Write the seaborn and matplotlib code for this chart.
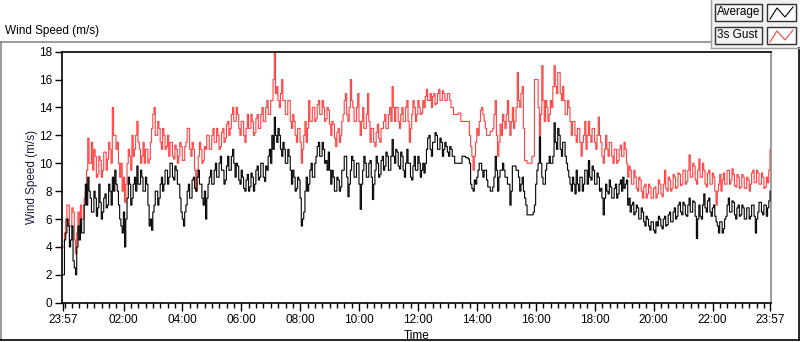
import numpy as np
import pandas as pd
import matplotlib
matplotlib.use('Agg')
import matplotlib.pyplot as plt
import seaborn as sns
from matplotlib.patches import Rectangle
from matplotlib.lines import Line2D
from matplotlib.ticker import FixedLocator

# データ: 23:57 からの経過分 (2.5分刻み, 1行 = 1時間)
step_min = 2.5

avg_speed = [
    2.0, 4.5, 5.0, 6.0, 5.5, 4.0, 4.5, 5.5, 3.0, 2.5, 2.0, 4.0, 5.5, 4.5, 6.0, 5.0, 5.0, 7.0, 8.5, 7.0, 9.0, 8.0, 7.5, 6.5,
    6.5, 8.0, 7.5, 6.2, 6.8, 8.5, 7.2, 6.0, 6.5, 7.5, 7.8, 6.8, 7.0, 8.5, 8.0, 7.0, 9.0, 8.0, 9.5, 8.5, 8.0, 7.0, 6.0, 5.5,
    5.0, 6.5, 4.0, 6.0, 7.5, 9.0, 8.5, 7.0, 7.5, 8.5, 9.0, 8.0, 9.8, 8.5, 8.5, 9.5, 9.0, 8.0, 8.0, 9.0, 8.5, 7.0, 5.5, 6.0,
    5.2, 6.5, 7.0, 8.0, 8.0, 7.0, 7.5, 8.5, 9.0, 8.0, 8.5, 9.5, 9.5, 8.5, 9.0, 10.0, 10.0, 9.0, 8.8, 9.8, 9.5, 8.5, 8.5, 7.5,
    6.5, 6.0, 5.5, 6.5, 7.0, 8.0, 8.5, 7.5, 7.5, 8.8, 9.0, 8.2, 8.0, 9.0, 9.5, 8.5, 8.5, 7.5, 7.0, 8.0, 6.0, 7.5, 8.5, 9.0,
    9.5, 8.5, 8.5, 9.5, 10.0, 9.0, 9.0, 10.0, 10.5, 9.5, 9.5, 8.5, 8.8, 9.8, 10.5, 9.5, 9.5, 10.5, 11.0, 10.0, 9.0, 10.0, 9.8, 8.8,
    8.5, 9.5, 9.0, 8.2, 8.0, 8.8, 9.2, 8.0, 8.3, 9.3, 9.0, 8.0, 8.5, 9.5, 9.8, 8.8, 9.0, 10.0, 10.0, 9.0, 8.7, 9.8, 9.5, 10.5,
    11.0, 10.0, 12.0, 11.0, 13.3, 12.0, 11.5, 12.5, 12.0, 11.0, 10.5, 11.5, 11.0, 10.0, 10.0, 11.0, 10.5, 9.5, 8.5, 9.5, 9.0, 8.0, 8.2, 9.0,
    8.8, 7.5, 5.5, 6.0, 6.5, 8.0, 9.0, 8.0, 8.5, 9.5, 10.0, 9.0, 9.0, 10.0, 10.5, 11.2, 11.5, 10.5, 10.5, 11.5, 11.0, 10.0, 10.2, 9.5,
    10.8, 9.5, 8.5, 9.5, 9.0, 8.0, 8.0, 9.0, 8.8, 8.0, 8.3, 9.5, 9.5, 10.5, 10.5, 9.0, 7.6, 8.5, 9.5, 10.5, 10.2, 9.0, 9.0, 10.0,
    10.0, 8.5, 6.7, 8.5, 9.5, 10.5, 10.0, 9.0, 9.0, 10.0, 10.2, 9.0, 7.4, 8.5, 9.5, 10.5, 10.0, 9.0, 9.2, 10.2, 10.5, 9.5, 9.8, 10.8,
    10.5, 9.5, 9.5, 10.5, 11.7, 10.5, 10.0, 11.0, 10.8, 9.8, 9.6, 10.8, 10.5, 9.5, 9.0, 10.0, 11.0, 10.0, 10.0, 9.0, 8.8, 9.8, 10.5, 9.5,
    9.5, 10.5, 10.0, 9.0, 9.5, 10.0, 9.3, 10.0, 11.0, 11.8, 12.0, 11.0, 10.5, 11.5, 11.5, 12.2, 12.0, 11.0, 11.0, 11.8, 11.5, 10.5, 11.0, 11.5,
    11.2, 10.8, 10.5, 11.2, 11.0, 10.5, 10.5, 10.0, 10.0, 10.0, 10.0, 10.0, 10.0, 10.5, 10.5, 10.5, 10.4, 10.4, 10.3, 10.0, 8.5, 8.2, 8.0, 8.8,
    8.5, 9.0, 9.5, 10.0, 10.0, 9.5, 9.0, 9.5, 9.5, 8.8, 8.3, 8.3, 8.0, 8.0, 8.3, 9.0, 10.5, 9.5, 8.0, 9.0, 9.5, 9.5, 10.0, 9.5,
    9.0, 9.0, 8.5, 8.5, 7.0, 8.0, 9.8, 9.8, 9.8, 9.5, 9.5, 9.0, 8.0, 8.5, 9.0, 8.0, 7.5, 7.0, 6.3, 6.3, 6.3, 6.3, 6.3, 6.5,
    7.0, 8.5, 9.5, 10.0, 11.9, 10.0, 9.0, 8.5, 8.5, 9.5, 10.0, 10.0, 10.5, 10.0, 10.0, 10.5, 12.9, 11.5, 11.0, 12.5, 12.0, 11.0, 10.5, 11.5,
    11.5, 10.5, 10.0, 9.5, 9.0, 8.5, 8.0, 9.0, 8.5, 7.8, 9.5, 8.5, 8.0, 9.0, 9.0, 8.0, 8.5, 9.5, 9.5, 8.5, 10.2, 9.0, 8.8, 9.8,
    9.5, 8.5, 8.5, 9.3, 9.0, 8.0, 8.2, 7.5, 6.3, 7.5, 8.5, 8.0, 7.8, 8.8, 8.3, 7.5, 7.5, 8.2, 8.5, 7.5, 7.8, 8.5, 8.8, 8.0,
    9.0, 8.2, 8.5, 8.8, 7.0, 7.5, 6.5, 7.0, 7.2, 6.3, 6.5, 7.0, 6.8, 6.0, 6.0, 6.8, 6.5, 5.8, 5.5, 6.2, 6.0, 5.5, 5.2, 5.8,
    5.8, 5.2, 5.0, 5.8, 5.5, 6.2, 6.0, 5.5, 5.3, 6.0, 6.2, 5.5, 5.6, 6.3, 6.5, 5.8, 5.8, 6.5, 6.8, 6.0, 6.2, 7.0, 7.2, 6.5,
    6.3, 7.2, 7.0, 6.3, 6.2, 7.0, 7.5, 6.5, 6.5, 7.3, 7.2, 6.2, 4.6, 6.0, 7.0, 6.2, 6.0, 7.0, 7.8, 6.8, 6.5, 7.3, 7.5, 6.5,
    6.2, 6.8, 7.0, 6.2, 5.8, 5.5, 5.0, 5.8, 5.8, 5.0, 5.3, 6.0, 6.2, 7.0, 7.5, 6.5, 6.5, 7.3, 7.2, 6.3, 6.0, 6.8, 7.0, 6.2,
    6.3, 7.0, 6.8, 6.0, 6.0, 6.8, 6.8, 6.0, 6.2, 7.0, 7.0, 6.2, 5.0, 6.0, 6.5, 7.2, 7.2, 6.5, 6.3, 7.0, 7.0, 6.2, 6.8, 7.3,
    8.0,
]

gust_speed = [
    4.0, 5.0, 6.0, 7.0, 7.0, 5.5, 5.5, 6.8, 6.5, 4.5, 3.5, 5.0, 6.5, 5.5, 7.0, 6.0, 6.0, 7.5, 8.0, 9.5, 11.8, 10.0, 10.0, 11.5,
    9.5, 11.0, 10.5, 9.0, 9.2, 10.5, 10.2, 9.0, 9.5, 10.8, 10.8, 9.5, 10.3, 11.5, 11.0, 10.0, 14.0, 12.0, 12.0, 11.0, 11.5, 10.0, 9.0, 10.0,
    8.0, 9.0, 7.2, 8.5, 10.0, 11.0, 10.5, 9.5, 12.0, 10.5, 11.0, 12.0, 13.0, 11.5, 11.0, 10.0, 10.5, 11.5, 10.0, 11.0, 11.0, 10.0, 10.3, 11.5,
    12.5, 13.5, 14.0, 12.0, 12.0, 13.0, 12.5, 11.5, 11.0, 12.5, 12.0, 11.0, 11.2, 12.0, 10.5, 11.5, 11.5, 10.5, 10.3, 11.3, 11.0, 10.0, 10.5, 11.5,
    11.2, 10.2, 10.2, 11.2, 11.5, 12.5, 12.5, 11.0, 10.5, 11.5, 11.0, 9.5, 8.0, 9.5, 10.5, 11.5, 11.0, 10.0, 10.2, 11.2, 11.0, 12.0, 12.0, 11.0,
    11.0, 12.0, 12.5, 11.5, 11.5, 12.5, 12.0, 11.0, 11.2, 12.2, 12.5, 11.5, 11.8, 12.8, 13.0, 12.0, 12.5, 13.5, 14.0, 13.0, 13.0, 14.0, 13.5, 12.5,
    12.0, 13.0, 13.0, 12.0, 11.5, 12.5, 13.5, 12.5, 12.5, 13.5, 13.0, 12.0, 12.2, 13.2, 13.5, 12.5, 12.5, 13.5, 14.0, 13.0, 13.0, 14.0, 14.5, 13.5,
    13.5, 14.5, 14.5, 16.0, 17.9, 15.0, 15.5, 14.5, 14.0, 15.0, 16.0, 14.5, 14.5, 13.5, 13.5, 14.5, 14.5, 13.0, 12.5, 13.5, 13.0, 12.0, 11.5, 12.5,
    12.5, 11.5, 10.0, 11.0, 12.0, 13.0, 11.5, 12.5, 14.5, 13.0, 13.0, 14.0, 14.0, 13.0, 13.2, 14.2, 14.5, 13.5, 13.5, 14.5, 14.0, 13.0, 13.2, 14.0,
    13.8, 12.8, 12.0, 13.0, 12.8, 11.8, 11.2, 12.2, 12.5, 11.5, 12.0, 13.0, 13.5, 14.5, 15.0, 13.5, 13.0, 14.0, 16.0, 14.5, 14.0, 13.0, 13.0, 14.0,
    15.0, 13.0, 12.0, 13.0, 14.0, 12.5, 12.5, 13.5, 15.0, 13.0, 11.5, 12.5, 12.5, 11.5, 11.2, 12.2, 12.8, 11.8, 11.5, 12.5, 12.5, 13.0, 13.5, 12.5,
    12.5, 13.5, 14.0, 13.0, 15.5, 14.0, 13.0, 14.0, 14.0, 13.0, 12.5, 13.5, 14.0, 13.0, 13.0, 14.0, 14.5, 13.0, 11.5, 12.5, 13.5, 14.5, 14.0, 13.0,
    13.5, 14.5, 14.0, 13.5, 13.6, 14.5, 14.0, 14.8, 15.3, 14.5, 14.5, 15.0, 14.0, 14.8, 15.0, 14.2, 14.3, 15.0, 15.3, 14.5, 14.5, 15.2, 15.0, 14.5,
    14.5, 15.0, 15.0, 14.5, 14.0, 14.0, 13.5, 13.5, 13.5, 13.5, 13.6, 13.6, 13.0, 13.0, 13.0, 13.0, 13.0, 13.0, 13.0, 12.0, 11.2, 10.5, 9.5, 10.5,
    11.5, 12.5, 12.0, 13.0, 13.8, 14.0, 13.5, 13.0, 12.5, 12.0, 12.0, 12.0, 12.3, 12.3, 12.5, 13.5, 14.5, 12.0, 10.5, 11.5, 12.8, 12.0, 13.5, 13.0,
    12.5, 13.5, 14.5, 13.0, 12.0, 13.0, 14.0, 12.5, 13.0, 14.0, 16.5, 14.5, 14.0, 15.0, 15.5, 12.5, 10.2, 10.2, 10.0, 10.0, 10.0, 10.0, 10.5, 10.5,
    16.0, 16.0, 16.0, 14.0, 12.0, 13.5, 17.0, 14.5, 13.0, 14.5, 14.0, 13.0, 13.5, 14.5, 14.0, 15.5, 17.0, 15.5, 15.0, 16.5, 16.5, 15.0, 14.5, 15.5,
    14.5, 13.5, 13.5, 14.5, 14.0, 13.0, 12.0, 13.0, 13.0, 12.0, 11.5, 12.5, 12.5, 11.5, 10.5, 11.5, 12.0, 13.0, 11.0, 12.0, 13.0, 12.0, 11.5, 12.5,
    12.5, 11.5, 11.0, 12.0, 13.3, 12.0, 11.5, 10.5, 10.0, 11.0, 12.0, 11.0, 10.5, 11.5, 11.5, 10.5, 10.0, 11.0, 11.0, 10.0, 10.2, 11.0, 11.3, 10.5,
    10.5, 11.5, 11.0, 10.0, 9.0, 9.8, 9.5, 8.5, 8.5, 9.5, 9.0, 8.2, 8.0, 9.0, 8.8, 8.0, 7.5, 8.3, 8.5, 7.5, 7.8, 8.5, 8.3, 7.5,
    7.5, 8.2, 8.3, 7.5, 7.8, 8.8, 8.5, 7.8, 7.6, 8.5, 9.5, 8.2, 8.0, 9.0, 8.8, 8.0, 8.2, 9.2, 9.0, 8.2, 8.3, 9.3, 9.2, 8.4,
    8.5, 9.5, 9.5, 8.5, 8.7, 9.5, 10.6, 9.0, 9.0, 10.0, 9.8, 8.8, 8.5, 9.5, 10.3, 9.0, 9.0, 10.0, 9.5, 8.5, 8.3, 9.3, 9.5, 8.5,
    8.5, 9.3, 9.0, 8.0, 7.0, 8.0, 8.5, 9.2, 8.0, 8.8, 9.3, 8.5, 8.5, 9.5, 9.5, 8.5, 8.8, 9.6, 9.2, 8.4, 8.3, 9.2, 9.0, 8.2,
    8.3, 9.2, 9.0, 8.2, 8.2, 9.0, 8.8, 8.0, 8.5, 9.3, 9.5, 8.6, 8.6, 9.5, 9.3, 8.5, 8.5, 9.3, 9.0, 8.2, 8.3, 9.0, 8.6, 9.5,
    11.0,
]

# 目盛りラベル (23:57 からの経過分)
tick_labels = ['23:57', '02:00', '04:00', '06:00', '08:00', '10:00', '12:00',
               '14:00', '16:00', '18:00', '20:00', '22:00', '23:57']
tick_minutes = [0, 123, 243, 363, 483, 603, 723, 843, 963, 1083, 1203, 1323, 1440]

series_names = ['Average', '3s Gust']
series_colors = ['#000000', '#ff4040']

minutes = np.arange(len(avg_speed)) * step_min
df = pd.DataFrame({'minute': minutes, 'Average': avg_speed, '3s Gust': gust_speed})

W, H = 800, 342
fig = plt.figure(figsize=(W / 100, H / 100), dpi=100)
plt.rcParams['font.family'] = ['Liberation Sans', 'DejaVu Sans']


def fx(x):
    return x / W


def fy(y):
    return 1 - y / H


ax = fig.add_axes([fx(62), fy(302.7), (771 - 62) / W, (302.7 - 51.7) / H])

sns.lineplot(data=df, x='minute', y='3s Gust', ax=ax, color=series_colors[1],
             drawstyle='steps-post', linewidth=0.8, legend=False, zorder=2)
sns.lineplot(data=df, x='minute', y='Average', ax=ax, color=series_colors[0],
             drawstyle='steps-post', linewidth=0.8, legend=False, zorder=3)

ax.set_xlim(-2.5, 1442)
ax.set_ylim(0, 18)
ax.set_yticks(np.arange(0, 19, 2))
ax.tick_params(axis='y', direction='out', length=5, width=1, labelsize=8.5, pad=2)
ax.set_xticks(tick_minutes)
ax.set_xticklabels(tick_labels)
ax.xaxis.set_minor_locator(FixedLocator([m for m in range(3, 1441, 15) if m not in tick_minutes]))
ax.tick_params(axis='x', which='major', direction='out', length=6, width=1, labelsize=8.5, pad=2)
ax.tick_params(axis='x', which='minor', direction='out', length=3.5, width=1)
ax.set_xlabel('Time', fontsize=8.5, labelpad=3)
ax.set_ylabel('Wind Speed (m/s)', fontsize=8.5, color='#1a1a3a', labelpad=1)

for side in ['left', 'top', 'bottom']:
    ax.spines[side].set_color('black')
    ax.spines[side].set_linewidth(1.2)
ax.spines['right'].set_color('#8a8a8a')
ax.spines['right'].set_linewidth(1.2)

# パネルの枠線
tf = fig.transFigure
fig.add_artist(Line2D([fx(0), fx(711)], [fy(42), fy(42)], color='#8a8a8a', lw=1.2, transform=tf))
fig.add_artist(Line2D([fx(0.6), fx(0.6)], [fy(42), fy(340)], color='#8a8a8a', lw=1.2, transform=tf))
fig.add_artist(Line2D([fx(0), fx(799)], [fy(339.5), fy(339.5)], color='black', lw=1.2, transform=tf))
fig.add_artist(Line2D([fx(798.5), fx(798.5)], [fy(48), fy(340)], color='black', lw=1.2, transform=tf))
fig.text(fx(5), fy(31), 'Wind Speed (m/s)', fontsize=8.5, va='center', ha='left')

# 凡例
fig.add_artist(Rectangle((fx(711), fy(48)), fx(88), 48 / H, facecolor='#f0f0f0',
                         edgecolor='none', transform=tf))
fig.add_artist(Line2D([fx(711), fx(711), fx(799)], [fy(0), fy(48), fy(48)],
                      color='#a0a0a0', lw=1, transform=tf))
for i, (name, col) in enumerate(zip(series_names, series_colors)):
    top = 4 + i * 23
    fig.add_artist(Rectangle((fx(715), fy(top + 17)), fx(47), 17 / H, facecolor='#f4f4f4',
                             edgecolor='#303030', lw=1, transform=tf))
    fig.text(fx(717), fy(top + 8.5), name, fontsize=8.5, va='center', ha='left')
    fig.add_artist(Rectangle((fx(767), fy(top + 17)), fx(29), 17 / H, facecolor='white',
                             edgecolor='#303030', lw=1, transform=tf))
    fig.add_artist(Line2D([fx(770), fx(777), fx(785), fx(793)],
                          [fy(top + 15), fy(top + 4), fy(top + 13), fy(top + 3)],
                          color=col, lw=0.8, transform=tf))

fig.savefig('out.png', dpi=100)
